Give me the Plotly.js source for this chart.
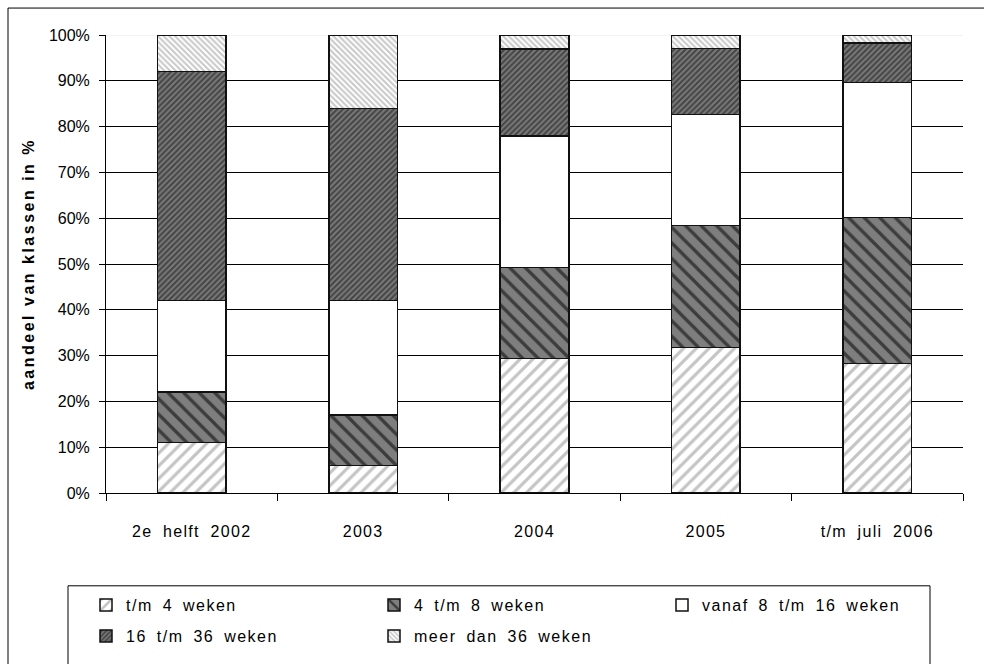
<!DOCTYPE html>
<html>
<head>
<meta charset="utf-8">
<script src="https://cdn.plot.ly/plotly-3.0.1.min.js"></script>
<style>
  html, body { margin: 0; padding: 0; background: #fff; }
  #chart { width: 984px; height: 664px; }
  /* loose, wide-set lettering of the labels */
  .xtick text { letter-spacing: 1.3px; word-spacing: 5px; }
  .legendtext,
  .infolayer g[class^="legend"] text { letter-spacing: 1.5px; word-spacing: 4px; }
  .ytitle { letter-spacing: 2.5px; }
</style>
</head>
<body>
<div id="chart"></div>
<script>
// Periods on the x axis
const categories = ['2e helft 2002', '2003', '2004', '2005', 't/m juli 2006'];

// Share of each duration class per period, in %
const tm4Weken    = [11.0,  6.0, 29.4, 31.8, 28.3];
const w4tm8       = [11.0, 11.0, 19.8, 26.6, 31.8];
const w8tm16      = [20.0, 25.0, 28.8, 24.2, 29.5];
const w16tm36     = [50.0, 42.0, 18.9, 14.4,  8.6];
const meerDan36   = [ 8.0, 16.0,  3.1,  3.0,  1.8];

const seriesNames = ['t/m 4 weken', '4 t/m 8 weken', 'vanaf 8 t/m 16 weken',
                     '16 t/m 36 weken', 'meer dan 36 weken'];

const yTicks = [0, 10, 20, 30, 40, 50, 60, 70, 80, 90, 100];

const FONT = 'Liberation Sans, Arial, sans-serif';

// Fill style per class: hatched greys like a print-friendly office chart
const fills = [
  { bg: '#ffffff', fg: '#c4c4c4', shape: '/',  size: 9,  solidity: 0.35 },
  { bg: '#7e7e7e', fg: '#3c3c3c', shape: '\\', size: 11, solidity: 0.3 },
  { bg: '#ffffff', fg: '#ffffff', shape: '',   size: 8,  solidity: 0.3 },
  { bg: '#7a7a7a', fg: '#444444', shape: '/',  size: 4,  solidity: 0.5 },
  { bg: '#ffffff', fg: '#c8c8c8', shape: '\\', size: 4,  solidity: 0.5 }
];

const values = [tm4Weken, w4tm8, w8tm16, w16tm36, meerDan36];

const traces = values.map((vals, i) => ({
  type: 'bar',
  name: seriesNames[i],
  x: categories,
  y: vals,
  legend: i < 3 ? 'legend' : 'legend2',
  marker: {
    color: fills[i].bg,
    line: { color: '#111', width: 1.5 },
    pattern: {
      shape: fills[i].shape,
      bgcolor: fills[i].bg,
      fgcolor: fills[i].fg,
      size: fills[i].size,
      solidity: fills[i].solidity,
      fillmode: 'replace'
    }
  },
  hoverinfo: 'skip'
}));

// Plot area runs from x=106..963 px and y=35..494 px
const L = 106, R = 963, T = 35, B = 494;
const px = v => (v - L) / (R - L);
const py = v => (B - v) / (B - T);

const legendCommon = {
  orientation: 'h',
  xanchor: 'left',
  yanchor: 'top',
  x: px(86),
  traceorder: 'normal',
  entrywidth: 243,
  entrywidthmode: 'pixels',
  font: { family: FONT, size: 16, color: '#000' },
  bgcolor: 'rgba(0,0,0,0)',
  borderwidth: 0
};

const layout = {
  width: 984,
  height: 664,
  margin: { l: L, r: 984 - R, t: T, b: 664 - B, pad: 0 },
  paper_bgcolor: '#fff',
  plot_bgcolor: '#fff',
  barmode: 'stack',
  bargap: 0.6,
  font: { family: FONT, size: 16, color: '#000' },
  showlegend: true,
  legend: Object.assign({}, legendCommon, { y: py(588) }),
  legend2: Object.assign({}, legendCommon, { y: py(619) }),
  xaxis: {
    type: 'category',
    tickson: 'boundaries',
    ticks: 'outside',
    ticklen: 7,
    tickcolor: '#000',
    showline: true,
    linecolor: '#000',
    linewidth: 1,
    showgrid: false,
    ticklabelstandoff: 24,
    tickfont: { family: FONT, size: 16, color: '#000' },
    fixedrange: true
  },
  yaxis: {
    range: [0, 100],
    tickvals: yTicks,
    ticktext: yTicks.map(v => v + '%'),
    ticks: 'outside',
    ticklen: 6,
    tickcolor: '#000',
    showline: true,
    linecolor: '#000',
    linewidth: 1,
    showgrid: true,
    gridcolor: '#000',
    gridwidth: 1,
    zeroline: false,
    ticklabelstandoff: 6,
    tickfont: { family: FONT, size: 16, color: '#000' },
    title: {
      // trailing spaces lift the title a little above the axis middle
      text: 'aandeel van klassen in %\u00a0\u00a0\u00a0',
      font: { family: FONT, size: 16, color: '#000', weight: 'bold' },
      standoff: 10
    },
    fixedrange: true
  },
  shapes: [
    // faint top edge of the value area
    { type: 'line', xref: 'paper', yref: 'y', x0: 0, x1: 1, y0: 100, y1: 100,
      line: { color: '#e6e6e6', width: 1 }, layer: 'between' },
    // outer chart frame
    { type: 'rect', xref: 'paper', yref: 'paper',
      x0: px(8), x1: px(1200), y0: py(900), y1: py(8),
      line: { color: '#000', width: 1 }, fillcolor: 'rgba(0,0,0,0)', layer: 'above' },
    // legend frame
    { type: 'rect', xref: 'paper', yref: 'paper',
      x0: px(68), x1: px(930), y0: py(900), y1: py(587),
      line: { color: '#000', width: 1 }, fillcolor: 'rgba(0,0,0,0)', layer: 'above' }
  ]
};

Plotly.newPlot('chart', traces, layout, { staticPlot: true, displayModeBar: false });
</script>
</body>
</html>
